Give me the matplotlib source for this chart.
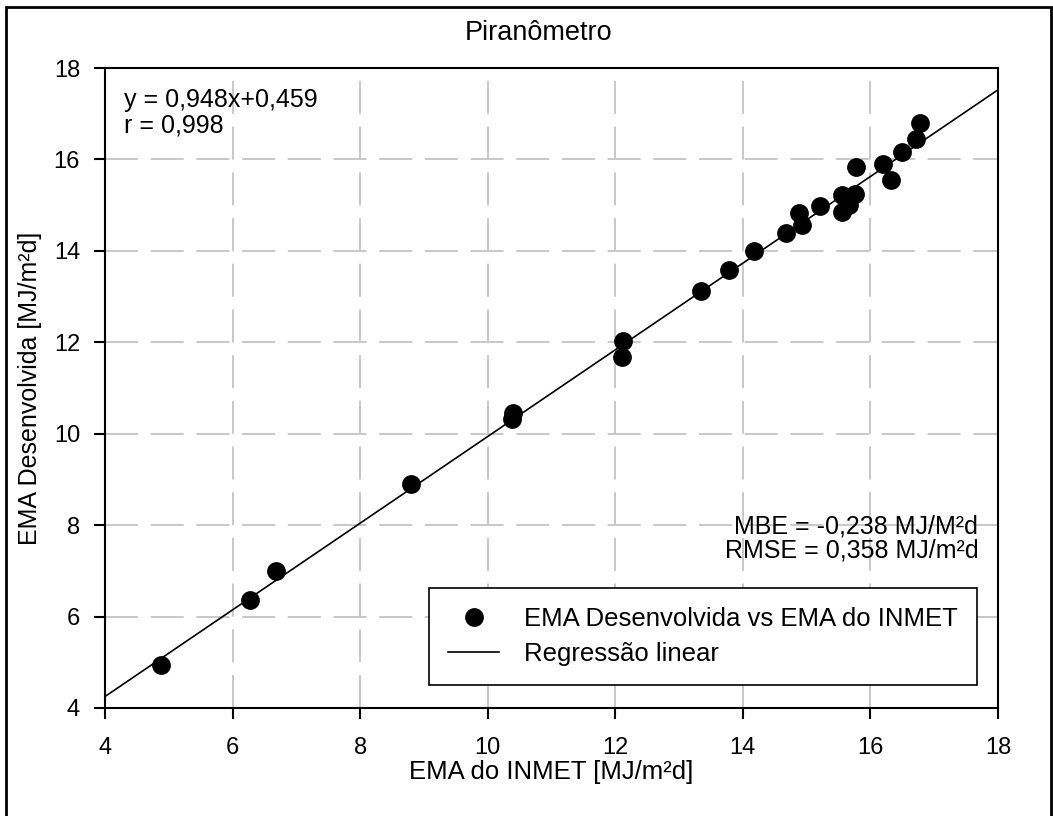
import matplotlib
matplotlib.use('Agg')
import matplotlib.pyplot as plt
import matplotlib.patches as mp
import numpy as np

plt.rcParams['font.family'] = ['Liberation Sans', 'DejaVu Sans']

# EMA do INMET vs EMA desenvolvida [MJ/m2d]
inmet = [4.88, 6.27, 6.68, 8.80, 10.38, 10.40, 12.10, 12.12, 13.34, 13.78,
         14.18, 14.67, 14.88, 14.93, 15.21, 15.55, 15.55, 15.67, 15.76, 15.77,
         16.19, 16.33, 16.49, 16.71, 16.77]
desenv = [4.94, 6.36, 6.99, 8.90, 10.32, 10.45, 11.68, 12.03, 13.12, 13.58,
          14.00, 14.38, 14.83, 14.56, 14.99, 14.86, 15.22, 15.00, 15.24, 15.83,
          15.91, 15.55, 16.17, 16.45, 16.79]
slope, intercept = 0.948, 0.459
xticks = [4, 6, 8, 10, 12, 14, 16, 18]
yticks = [4, 6, 8, 10, 12, 14, 16, 18]

fig = plt.figure(figsize=(10.53, 8.16), dpi=100)
ax = fig.add_axes([105/1053, 1-708/816, (998-105)/1053, (708-68)/816])

ax.grid(True, color='#c8c8c8', linestyle=(0, (17, 6.5)), linewidth=1.4)
ax.set_axisbelow(True)

xl = np.array([4, 18])
ax.plot(inmet, desenv, 'o', color='black', markersize=12.5, zorder=3,
        label='EMA Desenvolvida vs EMA do INMET')
ax.plot(xl, slope*xl + intercept, color='black', linewidth=1.2, zorder=2,
        label='Regressão linear')

ax.set_xlim(4, 18)
ax.set_ylim(4, 18)
ax.set_xticks(xticks)
ax.set_yticks(yticks)
ax.tick_params(direction='out', length=8, width=1.5, labelsize=17)
ax.tick_params(axis='x', pad=13)
ax.tick_params(axis='y', pad=10)
for s in ax.spines.values():
    s.set_linewidth(1.5)

ax.set_xlabel('EMA do INMET [MJ/m²d]', fontsize=18.5)
ax.xaxis.set_label_coords(0.5, (708-772)/640)
ax.xaxis.label.set_va('center')
ax.set_ylabel('EMA Desenvolvida [MJ/m²d]', fontsize=18)
ax.yaxis.set_label_coords((30-105)/893, 0.5)
ax.yaxis.label.set_va('center')
fig.text(539/1053, 1-33/816, 'Piranômetro', fontsize=19.5,
         ha='center', va='center')

ax.text(0.021, 0.968, 'y = 0,948x+0,459\nr = 0,998', transform=ax.transAxes,
        fontsize=18, va='top', ha='left', linespacing=1.05)
ax.text(0.978, 0.303, 'MBE = -0,238 MJ/M²d\nRMSE = 0,358 MJ/m²d',
        transform=ax.transAxes, fontsize=18, va='top', ha='right',
        linespacing=1.0)

leg = ax.legend(loc='lower right', bbox_to_anchor=(0.9765, 0.036),
                borderaxespad=0, fontsize=18.5, fancybox=False,
                edgecolor='black', framealpha=1, handlelength=2.0,
                handletextpad=0.95, borderpad=0.75, labelspacing=0.4)
leg.get_frame().set_linewidth(1.2)

fig.patches.append(mp.Rectangle((6/1053, -0.01), (1051-6)/1053, 1.01-7/816,
                                transform=fig.transFigure, fill=False,
                                edgecolor='black', linewidth=2))

fig.savefig('out.png', dpi=100)
